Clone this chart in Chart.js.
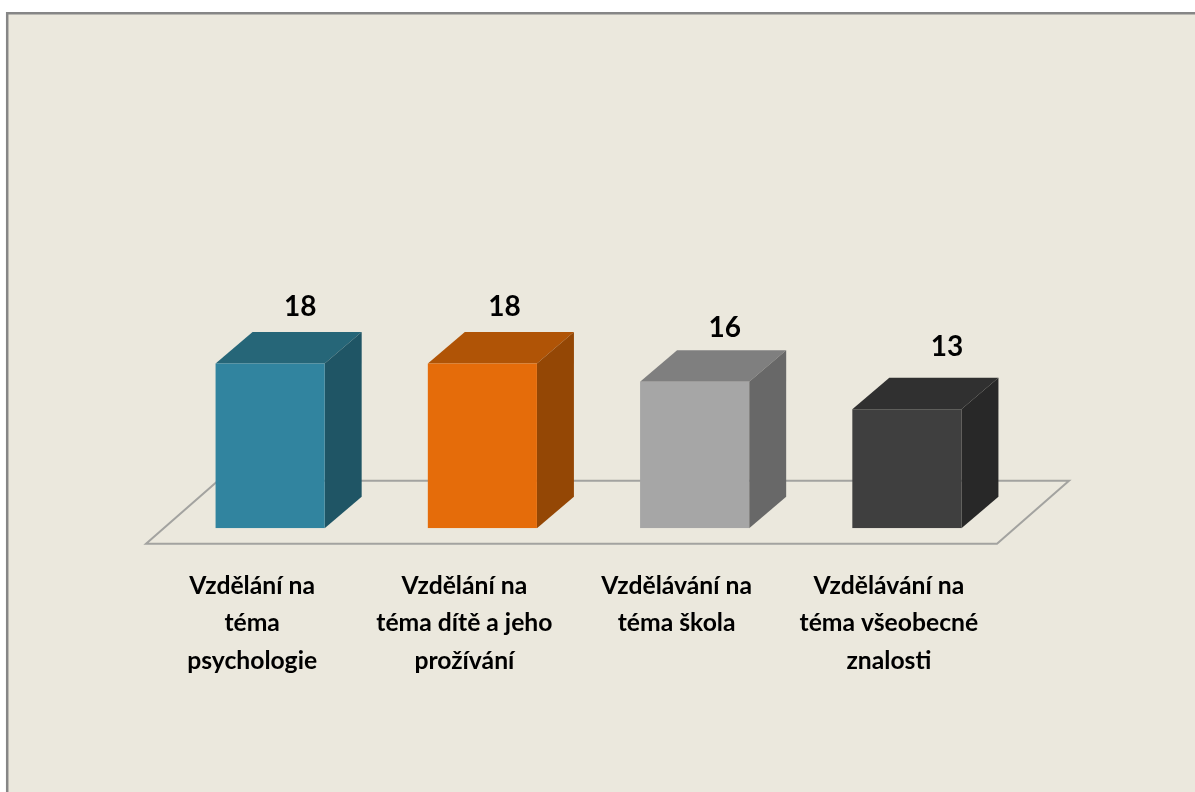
<!DOCTYPE html>
<html><head><meta charset="utf-8">
<style>html,body{margin:0;padding:0;background:#fff;overflow:hidden}canvas{display:block}</style>
<script src="https://cdn.jsdelivr.net/npm/chart.js@4"></script></head>
<body><canvas id="c" width="1195" height="792"></canvas>
<script>
const categories = [["Vzdělání na","téma","psychologie"],["Vzdělání na","téma dítě a jeho","prožívání"],["Vzdělávání na","téma škola"],["Vzdělávání na","téma všeobecné","znalosti"]];
const values = [18,18,16,13];
const frontColors = ["#31849f","#e56c0a","#a6a6a6","#3f3f3f"];
const topColors = ["#266678","#b05406","#7f7f7f","#303030"];
const sideColors = ["#1f5565","#944705","#686868","#282828"];
const labelDx = [30,22,30,40];
const labelDy = [57,57,54,62];
const FONT = 'Lato,"Liberation Sans",sans-serif';
const depth = {x:37,y:31.5};
const scene = {
  id:'scene',
  beforeDraw(ch){
    const {ctx}=ch;
    ctx.save();
    ctx.fillStyle='#fff';ctx.fillRect(0,0,1195,792);
    ctx.fillStyle='#ebe8dd';ctx.fillRect(7,13,1188,779);
    ctx.strokeStyle='#868686';ctx.lineWidth=2.5;
    ctx.beginPath();ctx.moveTo(7.2,792);ctx.lineTo(7.2,13.3);ctx.lineTo(1195,13.3);ctx.stroke();
    ctx.restore();
  },
  beforeDatasetsDraw(ch){
    const {ctx,scales:{x,y}}=ch, b=y.getPixelForValue(0);
    const half=x.getPixelForValue(1)-x.getPixelForValue(0);
    const L=x.getPixelForValue(0)-half/2-18, R=x.getPixelForValue(3)+half/2-16;
    ctx.save();ctx.strokeStyle='#a3a3a0';ctx.lineWidth=2;
    ctx.beginPath();ctx.moveTo(L,b+15.5);ctx.lineTo(R,b+15.5);ctx.lineTo(R+72,b-47.7);ctx.lineTo(L+72,b-47.7);ctx.closePath();ctx.stroke();
    ctx.restore();
    const m=ch.getDatasetMeta(0);
    m.data.forEach((el,i)=>{
      const l=el.x-el.width/2,r=el.x+el.width/2,t=el.y;
      ctx.fillStyle=topColors[i];ctx.beginPath();ctx.moveTo(l,t);ctx.lineTo(l+depth.x,t-depth.y);ctx.lineTo(r+depth.x,t-depth.y);ctx.lineTo(r,t);ctx.closePath();ctx.fill();
      ctx.fillStyle=sideColors[i];ctx.beginPath();ctx.moveTo(r,t);ctx.lineTo(r+depth.x,t-depth.y);ctx.lineTo(r+depth.x,b-depth.y);ctx.lineTo(r,b);ctx.closePath();ctx.fill();
    });
  },
  afterDatasetsDraw(ch){
    const {ctx}=ch;const m=ch.getDatasetMeta(0);
    ctx.save();ctx.fillStyle='#000';ctx.font='bold 28px '+FONT;ctx.textAlign='center';ctx.textBaseline='middle';
    m.data.forEach((el,i)=>ctx.fillText(String(values[i]),el.x+labelDx[i],el.y-labelDy[i]));
    ctx.restore();
  }
};
new Chart(document.getElementById('c'),{
  type:'bar',
  data:{labels:categories,datasets:[{data:values,backgroundColor:frontColors,borderWidth:0,barPercentage:0.514,categoryPercentage:1}]},
  plugins:[scene],
  options:{responsive:false,animation:false,
    layout:{padding:{left:164,right:182,top:70.5,bottom:82}},
    plugins:{legend:{display:false},tooltip:{enabled:false}},
    scales:{
      x:{grid:{display:false},border:{display:false},ticks:{color:'#000',font:{family:FONT,size:24.7,weight:'bold',lineHeight:1.52},maxRotation:0,autoSkip:false,padding:30.5,labelOffset:-18}},
      y:{display:false,min:0,max:50}
    }}
});
</script></body></html>
